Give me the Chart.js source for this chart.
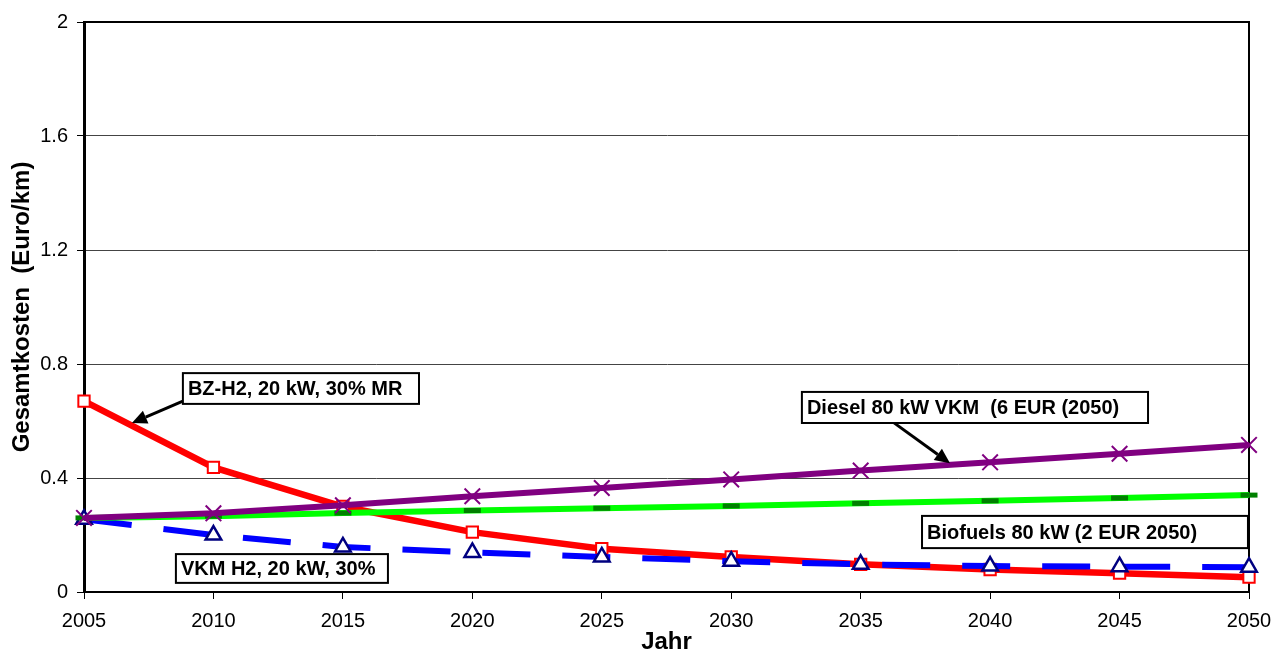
<!DOCTYPE html>
<html>
<head>
<meta charset="utf-8">
<script src="https://cdn.jsdelivr.net/npm/chart.js@4.4.1/dist/chart.umd.min.js"></script>
<style>
  html, body { margin: 0; padding: 0; background: #fff; }
  #wrap { width: 1283px; height: 650px; position: relative; }
</style>
</head>
<body>
<div id="wrap"><canvas id="c" width="1283" height="650"></canvas></div>
<script>
// ---- data ----
const years = [2005, 2010, 2015, 2020, 2025, 2030, 2035, 2040, 2045, 2050];
const bzH2 = [0.670, 0.437, 0.300, 0.210, 0.152, 0.123, 0.097, 0.079, 0.066, 0.052];
const vkmH2 = [0.255, 0.200, 0.158, 0.139, 0.123, 0.108, 0.097, 0.091, 0.089, 0.087];
const diesel = [0.260, 0.276, 0.304, 0.336, 0.365, 0.395, 0.426, 0.455, 0.485, 0.516];
const biofuels = [0.260, 0.266, 0.277, 0.286, 0.294, 0.302, 0.311, 0.320, 0.330, 0.340];
const yTickLabels = ['0', '0.4', '0.8', '1.2', '1.6', '2'];
const seriesNames = ['BZ-H2, 20 kW, 30% MR', 'VKM H2, 20 kW, 30%', 'Diesel 80 kW VKM  (6 EUR (2050)', 'Biofuels 80 kW (2 EUR 2050)'];
const xTitle = 'Jahr';
const yTitle = 'Gesamtkosten  (Euro/km)';

const pts = arr => years.map((y, i) => ({ x: y, y: arr[i] }));

// annotation boxes in data coordinates [x1, yTop, x2, yBottom]; arrows [xFrom, yFrom, xTip, yTip]
const notes = [
  { text: seriesNames[0], box: [2008.82, 0.768, 2017.94, 0.660], arrow: [2008.82, 0.670, 2006.85, 0.593] },
  { text: seriesNames[1], box: [2008.55, 0.133, 2016.74, 0.032], arrow: null },
  { text: seriesNames[2], box: [2032.73, 0.702, 2046.10, 0.593], arrow: [2036.25, 0.596, 2038.45, 0.452] },
  { text: seriesNames[3], box: [2037.37, 0.267, 2049.96, 0.154], arrow: null }
];

const FONT = '"Liberation Sans", Arial, sans-serif';

const notesPlugin = {
  id: 'notes',
  beforeDatasetsDraw(chart) {
    const { ctx, chartArea: a } = chart;
    ctx.save();
    ctx.strokeStyle = '#000';
    ctx.lineWidth = 2;
    ctx.strokeRect(a.left, a.top, a.right - a.left, a.bottom - a.top);
    ctx.restore();
  },
  afterDatasetsDraw(chart) {
    const { ctx } = chart;
    const xs = chart.scales.x, ys = chart.scales.y;
    ctx.save();
    notes.forEach(n => {
      if (n.arrow) {
        const x0 = xs.getPixelForValue(n.arrow[0]), y0 = ys.getPixelForValue(n.arrow[1]);
        const x1 = xs.getPixelForValue(n.arrow[2]), y1 = ys.getPixelForValue(n.arrow[3]);
        const ang = Math.atan2(y1 - y0, x1 - x0);
        const hl = 15, hw = 7;
        const bx = x1 - Math.cos(ang) * hl, by = y1 - Math.sin(ang) * hl;
        ctx.strokeStyle = '#000';
        ctx.lineWidth = 3;
        ctx.beginPath(); ctx.moveTo(x0, y0); ctx.lineTo(bx, by); ctx.stroke();
        ctx.fillStyle = '#000';
        ctx.beginPath();
        ctx.moveTo(x1, y1);
        ctx.lineTo(bx + Math.sin(ang) * hw, by - Math.cos(ang) * hw);
        ctx.lineTo(bx - Math.sin(ang) * hw, by + Math.cos(ang) * hw);
        ctx.closePath(); ctx.fill();
      }
      const l = xs.getPixelForValue(n.box[0]), t = ys.getPixelForValue(n.box[1]);
      const r = xs.getPixelForValue(n.box[2]), b = ys.getPixelForValue(n.box[3]);
      ctx.fillStyle = '#fff';
      ctx.fillRect(l, t, r - l, b - t);
      ctx.strokeStyle = '#000';
      ctx.lineWidth = 2;
      ctx.strokeRect(l, t, r - l, b - t);
      ctx.fillStyle = '#000';
      ctx.font = 'bold 20px ' + FONT;
      ctx.textBaseline = 'middle';
      ctx.textAlign = 'left';
      ctx.fillText(n.text, l + 5, (t + b) / 2 + 1);
    });
    ctx.restore();
  }
};

const common = { tension: 0, borderWidth: 6, pointBorderWidth: 2, pointHoverRadius: 8, clip: false, fill: false };

new Chart(document.getElementById('c'), {
  type: 'line',
  data: {
    datasets: [
      Object.assign({}, common, {
        label: seriesNames[0], data: pts(bzH2), order: 3, borderWidth: 6.5,
        borderColor: '#ff0000', pointStyle: 'rect', pointRadius: 8,
        pointBorderColor: '#ff0000', pointBackgroundColor: '#ffffff'
      }),
      Object.assign({}, common, {
        label: seriesNames[1], data: pts(vkmH2), order: 2,
        borderColor: '#0000ff', borderDash: [48, 32], borderCapStyle: 'butt',
        pointStyle: 'triangle', pointRadius: 9,
        pointBorderColor: '#000080', pointBackgroundColor: '#ffffff', pointBorderWidth: 2.5
      }),
      Object.assign({}, common, {
        label: seriesNames[3], data: pts(biofuels), order: 1,
        borderColor: '#00ff00', pointStyle: 'line', pointRadius: 8.5,
        pointBorderColor: '#008000', pointBackgroundColor: '#008000', pointBorderWidth: 5
      }),
      Object.assign({}, common, {
        label: seriesNames[2], data: pts(diesel), order: 0,
        borderColor: '#800080', pointStyle: 'crossRot', pointRadius: 11,
        pointBorderColor: '#800080', pointBackgroundColor: '#800080'
      })
    ]
  },
  options: {
    responsive: false,
    animation: false,
    devicePixelRatio: 1,
    layout: { padding: { left: 0, top: 22, right: 34, bottom: 0 } },
    plugins: { legend: { display: false }, title: { display: false }, tooltip: { enabled: false } },
    scales: {
      x: {
        type: 'linear', min: 2005, max: 2050,
        afterFit: s => { s.height = 58; },
        ticks: { stepSize: 5, color: '#000', font: { size: 20, family: FONT }, padding: 10,
                 maxRotation: 0, autoSkip: false, callback: v => String(v) },
        grid: { drawOnChartArea: false, drawTicks: true, tickLength: 7, tickColor: '#000', tickWidth: 1 },
        border: { display: true, color: '#000', width: 2 },
        title: { display: true, text: xTitle, color: '#000',
                 font: { size: 24, weight: 'bold', family: FONT, lineHeight: 0.6 }, padding: { top: 0, bottom: 0 } }
      },
      y: {
        min: 0, max: 2,
        afterFit: s => { s.width = 84; },
        ticks: { stepSize: 0.4, color: '#000', font: { size: 20, family: FONT }, padding: 9,
                 callback: (v, i) => yTickLabels[i] !== undefined ? yTickLabels[i] : String(v) },
        grid: { color: '#444', lineWidth: 1, drawTicks: true, tickLength: 7, tickColor: '#000', tickWidth: 1 },
        border: { display: true, color: '#000', width: 3 },
        title: { display: true, text: yTitle, color: '#000',
                 font: { size: 24, weight: 'bold', family: FONT, lineHeight: 1.2 }, padding: { top: 8, bottom: 0 } }
      }
    }
  },
  plugins: [notesPlugin]
});
</script>
</body>
</html>
